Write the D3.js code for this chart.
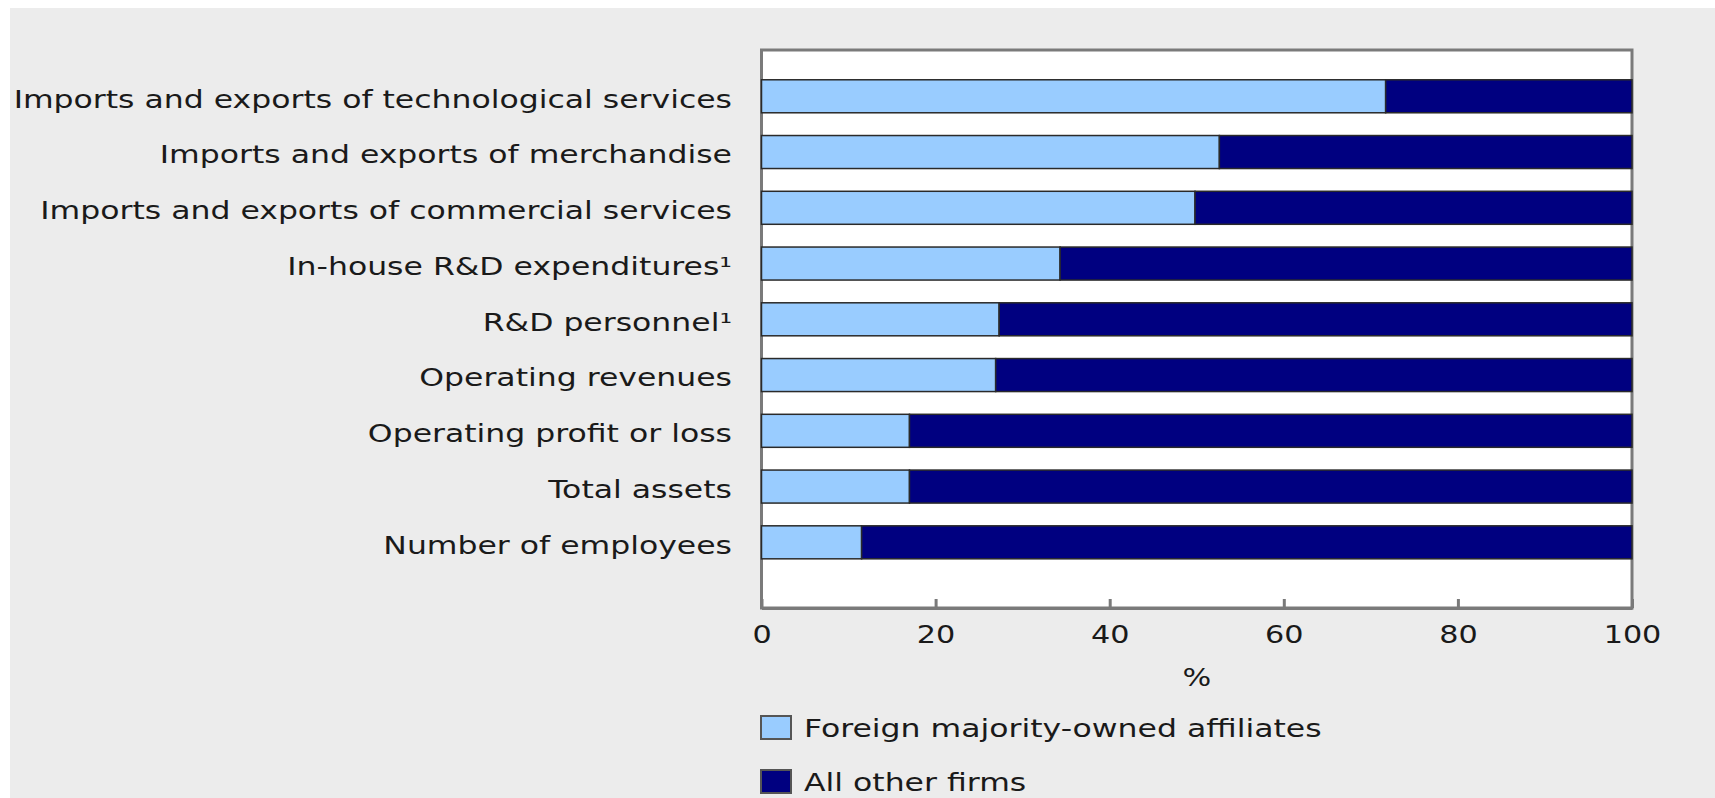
<!DOCTYPE html>
<html>
<head>
<meta charset="utf-8">
<script src="https://cdn.jsdelivr.net/npm/d3@7"></script>
<style>
  html, body { margin: 0; padding: 0; background: #ffffff; }
  svg { display: block; }
  text { font-family: "DejaVu Sans", Verdana, sans-serif; fill: #1a1a1a; }
</style>
</head>
<body>
<svg id="chart" width="1715" height="798"></svg>
<script>
// ---- Data ----
const categories = [
  "Imports and exports of technological services",
  "Imports and exports of merchandise",
  "Imports and exports of commercial services",
  "In-house R&D expenditures\u00B9",
  "R&D personnel\u00B9",
  "Operating revenues",
  "Operating profit or loss",
  "Total assets",
  "Number of employees"
];
const foreignShare = [71.7, 52.6, 49.8, 34.3, 27.3, 26.9, 17.0, 17.0, 11.5];
const otherShare = [28.3, 47.4, 50.2, 65.7, 72.7, 73.1, 83.0, 83.0, 88.5];
const seriesNames = ["Foreign majority-owned affiliates", "All other firms"];
const seriesColors = ["#99ccff", "#000080"];
const xTicks = [0, 20, 40, 60, 80, 100];
const xTitle = "%";

// ---- Layout ----
const svg = d3.select("#chart");
const SX = 1.26; // horizontal text stretch to match reference rendering
const plot = { left: 761.5, right: 1632, top: 50, bottom: 608 };

svg.append("rect").attr("x", 10).attr("y", 8).attr("width", 1705).attr("height", 790).attr("fill", "#ececec");

const x = d3.scaleLinear().domain([0, 100]).range([plot.left, plot.right]);
const y = d3.scaleBand().domain(categories).range([68.4, 570.2]).paddingInner(0.408).paddingOuter(0.204);

// plot area
svg.append("rect")
  .attr("x", plot.left).attr("y", plot.top)
  .attr("width", plot.right - plot.left).attr("height", plot.bottom - plot.top)
  .attr("fill", "#ffffff").attr("stroke", "#7a7a7a").attr("stroke-width", 3);

// stacked bars
const rows = categories.map((c, i) => ({ cat: c, vals: [foreignShare[i], otherShare[i]] }));
const gBars = svg.append("g");
rows.forEach(r => {
  let acc = 0;
  r.vals.forEach((v, s) => {
    gBars.append("rect")
      .attr("x", x(acc)).attr("y", y(r.cat))
      .attr("width", x(acc + v) - x(acc)).attr("height", y.bandwidth())
      .attr("fill", seriesColors[s])
      .attr("stroke", "#2a2a2a").attr("stroke-width", 1.5);
    acc += v;
  });
});

// y axis labels
const yAxis = svg.append("g").attr("transform", `translate(${plot.left},0)`)
  .call(d3.axisLeft(y).tickSize(0).tickPadding(0));
yAxis.select(".domain").remove();
yAxis.selectAll("text")
  .attr("x", null).attr("dy", "0.45em")
  .attr("font-size", 25)
  .attr("font-family", "DejaVu Sans, Verdana, sans-serif")
  .attr("fill", "#1a1a1a")
  .attr("transform", `translate(-29.5,0) scale(${SX},1)`);

// x axis
const xAxis = svg.append("g").attr("transform", `translate(0,${plot.bottom})`)
  .call(d3.axisBottom(x).tickValues(xTicks).tickSizeInner(-9).tickSizeOuter(0).tickFormat(d3.format("d")));
xAxis.select(".domain").attr("stroke", "#7a7a7a").attr("stroke-width", 3);
xAxis.selectAll(".tick line").attr("stroke", "#7a7a7a").attr("stroke-width", 3);
xAxis.selectAll("text")
  .attr("y", 0).attr("dy", 0)
  .attr("font-size", 24)
  .attr("font-family", "DejaVu Sans, Verdana, sans-serif")
  .attr("fill", "#1a1a1a")
  .attr("transform", `translate(0,34.7) scale(${SX},1)`);

// x title
svg.append("text")
  .attr("transform", `translate(${(plot.left + plot.right) / 2},${677 + 8.7}) scale(${SX},1)`)
  .attr("text-anchor", "middle").attr("font-size", 24)
  .text(xTitle);

// legend
const legendY = [727.5, 781.5];
seriesNames.forEach((name, i) => {
  svg.append("rect")
    .attr("x", 761).attr("y", legendY[i] - 11.5).attr("width", 30).attr("height", 23)
    .attr("fill", seriesColors[i]).attr("stroke", "#555").attr("stroke-width", 2);
  svg.append("text")
    .attr("transform", `translate(804,${legendY[i] + 9}) scale(${SX},1)`)
    .attr("font-size", 25)
    .text(name);
});
</script>
</body>
</html>
